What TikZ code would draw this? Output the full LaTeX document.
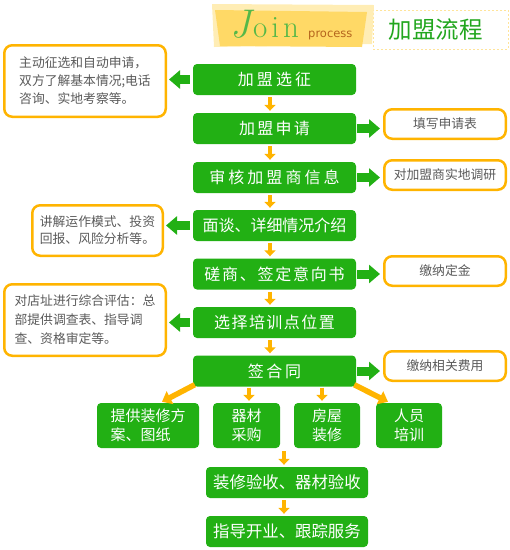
\documentclass[tikz,border=0pt]{standalone}
\usepackage{fontspec}
\newfontfamily\cjk{Noto Sans CJK SC}
\newfontfamily\dejavu{DejaVu Sans}
\usetikzlibrary{arrows.meta,calc}
\definecolor{boxgreen}{HTML}{22B014}
\definecolor{sideorange}{HTML}{FFB400}
\definecolor{arroworange}{HTML}{FFB400}
\definecolor{txtgray}{HTML}{5A5A5A}
\definecolor{titlegreen}{HTML}{22A61E}
\definecolor{joingreen}{HTML}{55B848}
\definecolor{procbrown}{HTML}{B5651D}
\definecolor{hdrdark}{HTML}{FFD966}
\definecolor{hdrlight}{HTML}{FFEDB5}
\definecolor{dashyellow}{HTML}{FFE49A}
\tikzset{
  mainbox/.style={fill=boxgreen, rounded corners=4pt, text=white, inner sep=0pt,
    font=\cjk\fontsize{16}{18}\selectfont, minimum width=163pt, minimum height=31pt},
  rowbox/.style={fill=boxgreen, rounded corners=4pt, text=white, inner sep=0pt, align=left,
    font=\cjk\fontsize{15}{19.5}\selectfont, minimum height=45pt},
  sidebox/.style={draw=sideorange, line width=2.5pt, rounded corners=8pt, fill=white,
    text=txtgray, inner sep=0pt, align=left, font=\cjk\fontsize{12.8}{18}\selectfont},
  rightbox/.style={sidebox, minimum width=121.5pt, minimum height=29.5pt},
  downarr/.style={draw=arroworange, line width=4.5pt, -{Triangle[width=11pt,length=6pt]},
    shorten <=2pt, shorten >=2pt},
  diagarr/.style={draw=arroworange, line width=5.5pt, -{Triangle[width=14pt,length=9pt]}},
  garr/.style={draw=boxgreen, line width=9pt, -{Triangle[width=18pt,length=11pt]}},
}
\begin{document}
\begin{tikzpicture}[x=1pt,y=-1pt]
\useasboundingbox (0,0) rectangle (510,550);
% header
\node[draw=dashyellow, dash pattern=on 2pt off 2pt, line width=0.8pt, minimum width=135pt,
  minimum height=39pt, inner sep=0pt, text=titlegreen, font=\cjk\fontsize{23.5}{24}\selectfont]
  (title) at (440.5,29.5) {加盟流程\hspace*{10pt}};
\fill[hdrlight] (212,4) -- (374,5) -- (372,44) -- (214,47) -- cycle;
\fill[hdrdark] (215,10) -- (367,12) -- (362,47) -- (220,46) -- cycle;
\node[anchor=base west, inner sep=0pt, text=joingreen,
  font=\fontsize{31}{31}\selectfont] (join) at (230,37)
  {{\fontsize{40}{40}\selectfont\itshape J}\hspace{2.5pt}o\hspace{4pt}i\hspace{4pt}n};
\node[anchor=base west, inner sep=0pt, text=procbrown, font=\dejavu\fontsize{11.5}{12}\selectfont]
  (proc) at (308,37) {process};
% main column
\node[mainbox, font=\cjk\fontsize{16}{18}\selectfont\addfontfeature{LetterSpace=19}] (m1) at (274.5,79.5) {加盟选征};
\node[mainbox, font=\cjk\fontsize{16}{18}\selectfont\addfontfeature{LetterSpace=14}] (m2) at (274.5,128.5) {加盟申请};
\node[mainbox, font=\cjk\fontsize{16}{18}\selectfont\addfontfeature{LetterSpace=19}] (m3) at (274.5,177.5) {审核加盟商信息};
\node[mainbox] (m4) at (274.5,225.5) {面谈、详细情况介绍};
\node[mainbox, font=\cjk\fontsize{16}{18}\selectfont\addfontfeature{LetterSpace=11}] (m5) at (274.5,274) {磋商、签定意向书};
\node[mainbox, font=\cjk\fontsize{16}{18}\selectfont\addfontfeature{LetterSpace=9}] (m6) at (274.5,322.5) {选择培训点位置};
\node[mainbox, font=\cjk\fontsize{16}{18}\selectfont\addfontfeature{LetterSpace=16}] (m7) at (274.5,371) {签合同};
% bottom row
\node[rowbox, minimum width=102pt] (b1) at (148,425.5) {提供装修方\\案、图纸};
\node[rowbox, minimum width=67pt] (b2) at (246.5,425.5) {器材\\采购};
\node[rowbox, minimum width=66pt] (b3) at (327,425.5) {房屋\\装修};
\node[rowbox, minimum width=66pt] (b4) at (409,425.5) {人员\\培训};
\node[mainbox, minimum width=162pt, font=\cjk\fontsize{16.4}{18}\selectfont] (m8) at (287,482.5) {装修验收、器材验收};
\node[mainbox, minimum width=162pt, font=\cjk\fontsize{16.4}{18}\selectfont] (m9) at (287,531.5) {指导开业、跟踪服务};
% side boxes left
\node[sidebox, minimum width=161.5pt, minimum height=71.5pt] (s1) at (85,81)
  {主动征选和自动申请，\\双方了解基本情况;电话\\咨询、实地考察等。};
\node[sidebox, minimum width=130.5pt, minimum height=50.5pt, font=\cjk\fontsize{12.8}{17}\selectfont] (s4) at (97.5,230.5)
  {讲解运作模式、投资\\回报、风险分析等。};
\node[sidebox, minimum width=161.5pt, minimum height=71.5pt, font=\cjk\fontsize{12.8}{19}\selectfont] (s6) at (85,320)
  {对店址进行综合评估：总\\部提供调查表、指导调\\查、资格审定等。};
% side boxes right
\node[rightbox] (r2) at (445,124) {填写申请表};
\node[rightbox] (r3) at (445,175) {对加盟商实地调研};
\node[rightbox] (r5) at (445,271) {缴纳定金};
\node[rightbox] (r7) at (445,366) {缴纳相关费用};
% orange down arrows
\foreach \a/\b in {m1/m2,m2/m3,m3/m4,m4/m5,m5/m6,m6/m7}
  \draw[downarr] ($(\a.south)+(-4.5,0)$) -- ($(\b.north)+(-4.5,0)$);
\draw[diagarr] ($(m7.south west)+(2,-2)$) -- ($(b1.north)+(14,-1)$);
\draw[diagarr] ($(m7.south east)+(-2,-2)$) -- ($(b4.north)+(-21,-1)$);
\draw[downarr] ($(m7.south -| b2.north)+(2.5,-1)$) -- ($(b2.north)+(2.5,0)$);
\draw[downarr] ($(m7.south -| b3.north)+(-5,-1)$) -- ($(b3.north)+(-5,0)$);
\coordinate (rowbottom) at (284,449);
\draw[downarr] (rowbottom) -- (rowbottom |- m8.north);
\draw[downarr] ($(m8.south)+(-3,0)$) -- ($(m9.north)+(-3,0)$);
% green side arrows
\draw[garr, shorten <=3pt, shorten >=2pt] (m1.west) -- (m1.west -| s1.east);
\draw[garr, shorten <=3pt, shorten >=2pt] (m4.west) -- (m4.west -| s4.east);
\draw[garr, shorten <=3pt, shorten >=2pt] (m6.west) -- (m6.west -| s6.east);
\draw[garr, shorten <=1pt, shorten >=3pt] (m2.east) -- (m2.east -| r2.west);
\draw[garr, shorten <=1pt, shorten >=3pt] (m3.east) -- (m3.east -| r3.west);
\draw[garr, shorten <=1pt, shorten >=3pt] (m5.east) -- (m5.east -| r5.west);
\draw[garr, shorten <=1pt, shorten >=3pt] (m7.east) -- (m7.east -| r7.west);
\end{tikzpicture}
\end{document}
